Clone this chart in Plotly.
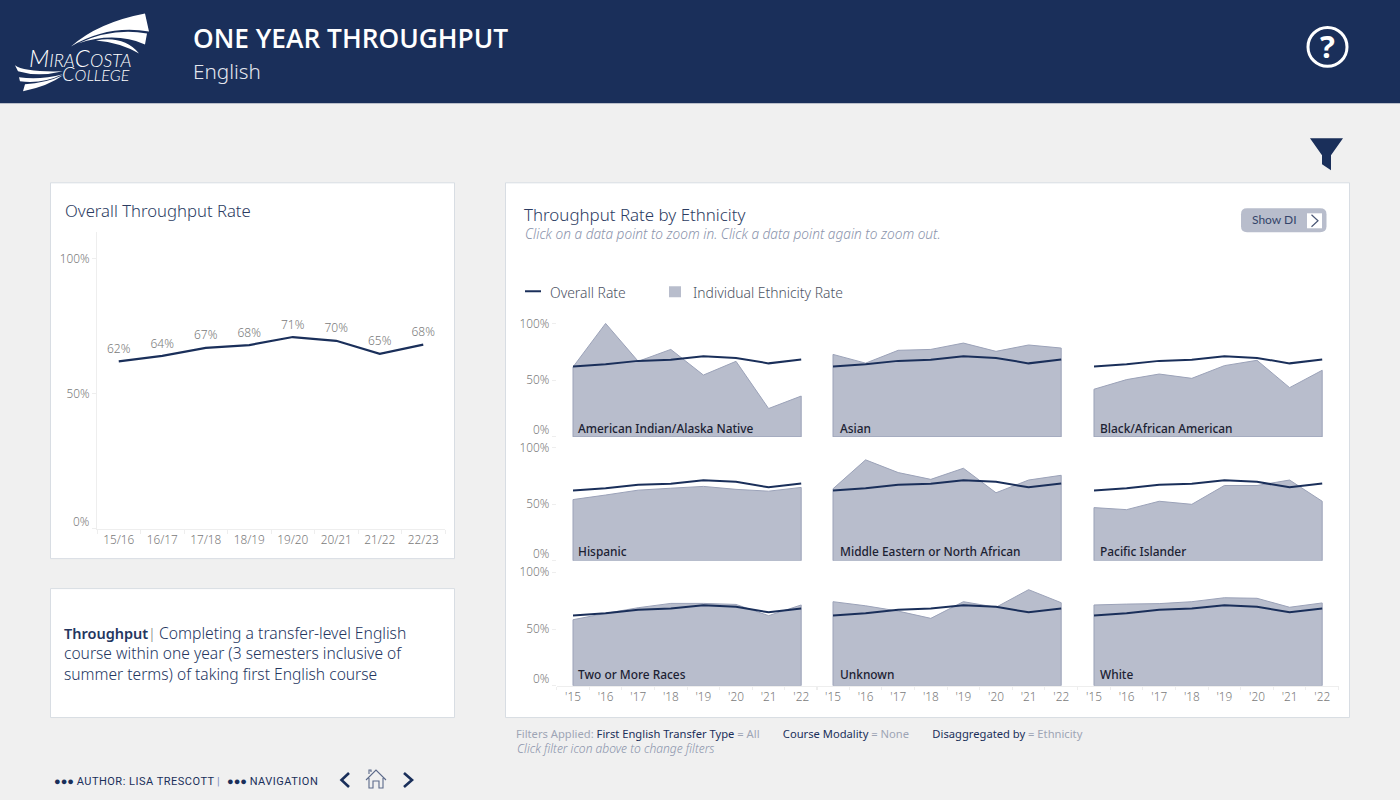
import plotly.graph_objects as go

# ---------- data ----------
YEARS_LONG = ["15/16", "16/17", "17/18", "18/19", "19/20", "20/21", "21/22", "22/23"]
YEARS_SHORT = ["'15", "'16", "'17", "'18", "'19", "'20", "'21", "'22"]
OVERALL = [62.0, 64.0, 67.0, 68.0, 71.0, 69.6, 64.8, 68.2]
AM_INDIAN = [61.6, 100, 66.6, 77.1, 54.5, 66.6, 25, 36]
ASIAN = [72.7, 65, 76.3, 77.1, 82.7, 75.4, 81, 78.3]
BLACK = [42, 50.5, 55.4, 51.6, 62.8, 67.5, 43.4, 58.7]
HISPANIC = [54, 58, 62.3, 64, 65.6, 63, 61.4, 64.7]
MENA = [63.5, 89, 77.8, 71.8, 81.6, 60, 71.2, 75.4]
PACIFIC = [46.9, 45.1, 52.5, 49.8, 66.4, 66.4, 71.2, 52.5]
TWO_MORE = [58.2, 63.8, 68.8, 72.6, 72.6, 71.7, 61.8, 71.2]
UNKNOWN = [74.1, 70.5, 65.8, 59.4, 74.1, 69.2, 84.7, 73.2]
WHITE = [71.2, 72, 72.4, 74.1, 77.6, 77.1, 69.2, 73]
PANEL_NAMES = ["American Indian/Alaska Native", "Asian", "Black/African American",
               "Hispanic", "Middle Eastern or North African", "Pacific Islander",
               "Two or More Races", "Unknown", "White"]
PANEL_VALUES = [AM_INDIAN, ASIAN, BLACK, HISPANIC, MENA, PACIFIC, TWO_MORE, UNKNOWN, WHITE]

# ---------- style ----------
W, H = 1400, 800
NAVY = "#1a2f5a"
AREA = "#b8bdcc"
AREA_EDGE = "#9ba2b8"
BG = "#f0f0f0"
BORDER = "#d8dde3"
GRAY = "#7a7a7a"
TICK = "#eeeeee"
SANS = "Noto Sans"
TOP_FIX = 2.6  # the page draws the paper area about this far below the window top

def px(x):
    return x / W

def py(y):
    return 1 - (y - TOP_FIX) / (H - TOP_FIX)

shapes = []
annotations = []

def rect(x0, y0, x1, y1, fill, line=None, width=1):
    shapes.append(dict(type="rect", xref="paper", yref="paper", layer="below",
                       x0=px(x0), x1=px(x1), y0=py(y1), y1=py(y0), fillcolor=fill,
                       line=dict(color=line or fill, width=width if line else 0)))

def path(points, fill=None, line=None, width=1.5, close=True, layer="above"):
    d = ""
    for cmd, *coords in points:
        d += cmd
        for i in range(0, len(coords), 2):
            d += f" {px(coords[i]):.5f},{py(coords[i + 1]):.5f} "
    if close:
        d += "Z"
    shapes.append(dict(type="path", xref="paper", yref="paper", layer=layer, path=d,
                       fillcolor=fill or "rgba(0,0,0,0)",
                       line=dict(color=line or "rgba(0,0,0,0)", width=width if line else 0)))

def label(x, y, text, size=12, color=GRAY, weight=None, family=SANS, anchor="left"):
    f = dict(size=size, color=color, family=family)
    if weight:
        f["weight"] = weight
    annotations.append(dict(xref="paper", yref="paper", x=px(x), y=py(y), text=text,
                            showarrow=False, xanchor=anchor, yanchor="middle",
                            font=f, borderpad=0, borderwidth=0))

# ---------- page furniture ----------
rect(0, -4, 1400, 103, NAVY)
rect(50.5, 182.5, 454.5, 558.5, "white", BORDER)
rect(50.5, 588.5, 454.5, 717.5, "white", BORDER)
rect(505.5, 182.5, 1349.5, 717.5, "white", BORDER)

# logo
path([("M", 71, 46), ("Q", 98, 22, 145, 13), ("L", 149, 31), ("Q", 108, 24, 71, 46)], fill="white")
path([("M", 78, 43), ("Q", 112, 27, 147, 33), ("L", 145, 44), ("Q", 115, 31, 78, 43)], fill="white")
path([("M", 96, 40), ("Q", 124, 35, 139, 53), ("Q", 120, 42, 96, 40)], fill="white")
path([("M", 15, 65), ("Q", 24, 72, 63, 71), ("Q", 38, 77, 18, 71)], fill="white")
path([("M", 19, 77), ("Q", 40, 80, 63, 74), ("Q", 42, 84, 20, 81)], fill="white")
path([("M", 23, 91), ("L", 25, 84), ("Q", 45, 83, 63, 75), ("Q", 48, 86, 23, 91)], fill="white")
label(29, 57.5, '<i><span style="font-size:24px">M</span>IRA<span style="font-size:24px">C</span>OSTA</i>',
      size=18, color="white", family="Lato", weight=300)
label(62, 73, '<i><span style="font-size:20px">C</span>OLLEGE</i>',
      size=16, color="white", family="Lato", weight=300)

# titles
label(193, 37.5, "ONE YEAR THROUGHPUT", size=26.3, color="white", weight=600, family="Open Sans")
label(193, 70.5, "English", size=20.7, color="#e4e7ee", weight=300)

# help icon
shapes.append(dict(type="circle", xref="paper", yref="paper", layer="above",
                   x0=px(1308), x1=px(1347), y0=py(66), y1=py(27),
                   line=dict(color="white", width=3), fillcolor="rgba(0,0,0,0)"))
label(1327.5, 46, "?", size=31, color="white", weight=700, anchor="center")

# funnel
path([("M", 1310, 138), ("L", 1343, 138), ("L", 1331, 155), ("L", 1331, 170),
      ("L", 1322, 164), ("L", 1322, 155)], fill=NAVY)

# panel titles
label(65, 210.5, "Overall Throughput Rate", size=16.7, color="#2c3c62", weight=300)
label(524, 214.5, "Throughput Rate by Ethnicity", size=16.9, color="#2c3c62", weight=300)
label(525, 233.5, "<i>Click on a data point to zoom in. Click a data point again to zoom out.</i>",
      size=13.65, color="#8a93ab", weight=300)

# Show DI button
shapes.append(dict(type="path", xref="paper", yref="paper", layer="above",
                   path=" ".join([
                       f"M {px(1247)},{py(208)}", f"L {px(1320)},{py(208)}",
                       f"Q {px(1326.5)},{py(208)} {px(1326.5)},{py(214)}",
                       f"L {px(1326.5)},{py(226)}", f"Q {px(1326.5)},{py(232)} {px(1320)},{py(232)}",
                       f"L {px(1247)},{py(232)}", f"Q {px(1241)},{py(232)} {px(1241)},{py(226)}",
                       f"L {px(1241)},{py(214)}", f"Q {px(1241)},{py(208)} {px(1247)},{py(208)}", "Z"]),
                   fillcolor=AREA, line=dict(width=0)))
path([("M", 1307, 213), ("L", 1322, 213), ("L", 1322, 228), ("L", 1307, 228)], fill="white")
path([("M", 1311.5, 214.5), ("L", 1318, 220.5), ("L", 1311.5, 226.5)], line="#4a5675", width=1.2, close=False)
label(1251.5, 219.5, "Show DI", size=12, color="#34446a", family="Lato")

# legend
path([("M", 525, 291), ("L", 541, 291)], line=NAVY, width=2, close=False)
label(550, 292, "Overall Rate", size=13.9, color="#4c5363", weight=300)
rect(669, 286, 681, 297, AREA)
label(693, 292, "Individual Ethnicity Rate", size=13.9, color="#4c5363", weight=300)

# definition text
label(64, 632.5, "Throughput", size=14.5, color="#24365f", weight=600)
label(148, 632.5, "|", size=14.5, color="#777777", weight=300)
label(159, 632.5, "Completing a transfer-level English", size=15.7, color="#24365f", weight=300)
label(64, 653, "course within one year (3 semesters inclusive of", size=15.6, color="#24365f", weight=300)
label(64, 673.5, "summer terms) of taking first English course", size=15.6, color="#24365f", weight=300)

# filter notes
label(516, 733.5,
      'Filters Applied: <span style="color:#1a2f5a">First English Transfer Type</span> = All'
      '        <span style="color:#1a2f5a">Course Modality</span> = None'
      '        <span style="color:#1a2f5a">Disaggregated by</span> = Ethnicity',
      size=11.2, color="#9ea5b5")
label(516.5, 748.5, "<i>Click filter icon above to change filters</i>", size=12.05, color="#8a93ab", weight=300)

# footer
SPACED = '<span style="letter-spacing:0.5px">{}</span>'
label(54, 781, "●●● " + SPACED.format("AUTHOR: LISA TRESCOTT"), size=11, color=NAVY, family="Roboto")
label(217, 781, "|", size=11, color="#7f8fc0", family="Roboto")
label(227, 781, "●●● " + SPACED.format("NAVIGATION"), size=11, color=NAVY, family="Roboto")
path([("M", 349, 773), ("L", 341.5, 780), ("L", 349, 787)], line=NAVY, width=2.6, close=False)
path([("M", 404, 773), ("L", 412, 780), ("L", 404, 787)], line=NAVY, width=2.6, close=False)
path([("M", 366, 780), ("L", 376, 770), ("L", 386, 780), ("M", 369, 778), ("L", 369, 788),
      ("L", 373, 788), ("L", 373, 781), ("L", 379, 781), ("L", 379, 788), ("L", 383, 788), ("L", 383, 778),
      ("M", 369, 774), ("L", 369, 770), ("L", 371, 770), ("L", 371, 772)],
     line="#5c6a8a", width=1.1, close=False)

# ---------- traces ----------
fig = go.Figure()
TICKFONT = dict(size=11.8, color=GRAY, family=SANS, weight=300)

# overall chart
fig.add_trace(go.Scatter(x=YEARS_LONG, y=OVERALL, mode="lines+markers+text", xaxis="x", yaxis="y",
                         line=dict(color=NAVY, width=2.2), marker=dict(size=7, opacity=0),
                         texttemplate="%{y:.0f}%", textposition="top center",
                         textfont=dict(size=12, color=GRAY, family=SANS, weight=300),
                         showlegend=False))

axes = {
    "xaxis": dict(domain=[px(97), px(445)], type="category", range=[-0.5, 7.5], anchor="y",
                  tickson="boundaries", ticks="outside", ticklen=4, tickcolor=TICK,
                  showline=True, linecolor=TICK, showgrid=False,
                  tickfont=TICKFONT, fixedrange=True),
    "yaxis": dict(domain=[py(528.5), py(231.5)], range=[0, 110], anchor="x",
                  tickvals=[0, 50, 100], ticktext=["", "50%", "100%"], ticks="outside", ticklen=4,
                  tickcolor=TICK, showline=True, linecolor=TICK, showgrid=False, zeroline=False,
                  tickfont=TICKFONT, fixedrange=True),
}
annotations.append(dict(xref="x domain", yref="y", x=0, y=0, yshift=8, xshift=-6, text="0%",
                        showarrow=False, xanchor="right", yanchor="middle", font=TICKFONT))

PANEL_W = 260.8
COL_LEFT = [556.7, 816.7, 1077.7]
COL_NAME_X = [578, 840, 1100]
ROW_ZERO = [436.7, 560.7, 685.7]
ROW_NAME_Y = [428, 550.5, 673.5]
ROW_H = 113.5

for i, (name, vals) in enumerate(zip(PANEL_NAMES, PANEL_VALUES)):
    row, col = divmod(i, 3)
    n = i + 2
    xa, ya = f"x{n}", f"y{n}"
    fig.add_trace(go.Scatter(x=[YEARS_SHORT[0]] + YEARS_SHORT + [YEARS_SHORT[-1], YEARS_SHORT[0]],
                             y=[0] + vals + [0, 0], mode="lines", fill="toself",
                             fillcolor=AREA, line=dict(color=AREA_EDGE, width=1),
                             xaxis=xa, yaxis=ya, showlegend=False, name=name))
    fig.add_trace(go.Scatter(x=YEARS_SHORT, y=OVERALL, mode="lines",
                             line=dict(color=NAVY, width=2), xaxis=xa, yaxis=ya,
                             showlegend=False, name="Overall Rate"))
    left = COL_LEFT[col]
    zero = ROW_ZERO[row]
    bottom_row = row == 2
    axes[f"xaxis{n}"] = dict(domain=[px(left), px(left + PANEL_W)], type="category",
                             categoryorder="array", categoryarray=YEARS_SHORT,
                             range=[-0.5, 7.5], anchor=ya, showgrid=False, fixedrange=True,
                             tickson="boundaries", ticks="outside" if bottom_row else "",
                             ticklen=3, tickcolor=TICK, showline=bottom_row, linecolor=TICK,
                             showticklabels=bottom_row, tickfont=TICKFONT)
    axes[f"yaxis{n}"] = dict(domain=[py(zero), py(zero - ROW_H * 1.05)], range=[0, 105], anchor=xa,
                             tickvals=[0, 50, 100], ticktext=["", "50%", "100%"] if col == 0 else ["", "", ""],
                             ticks="outside" if col == 0 else "", ticklen=4, tickcolor=TICK,
                             showgrid=False, zeroline=False, showline=False, fixedrange=True,
                             tickfont=TICKFONT)
    if col == 0:
        annotations.append(dict(xref=f"{xa} domain", yref=ya, x=0, y=0, yshift=8, xshift=-6, text="0%",
                                showarrow=False, xanchor="right", yanchor="middle", font=TICKFONT))
    label(COL_NAME_X[col], ROW_NAME_Y[row], name, size=11.9, color="#1c2233", weight=500)

fig.update_layout(width=W, height=H, margin=dict(l=0, r=0, t=0, b=0), paper_bgcolor=BG,
                  plot_bgcolor="rgba(0,0,0,0)", shapes=shapes, annotations=annotations,
                  font=dict(family=SANS), hovermode="closest", **axes)

fig.write_html("out.html", config={"displayModeBar": False},
               post_script="document.body.style.margin='0';document.body.style.overflow='hidden';")
